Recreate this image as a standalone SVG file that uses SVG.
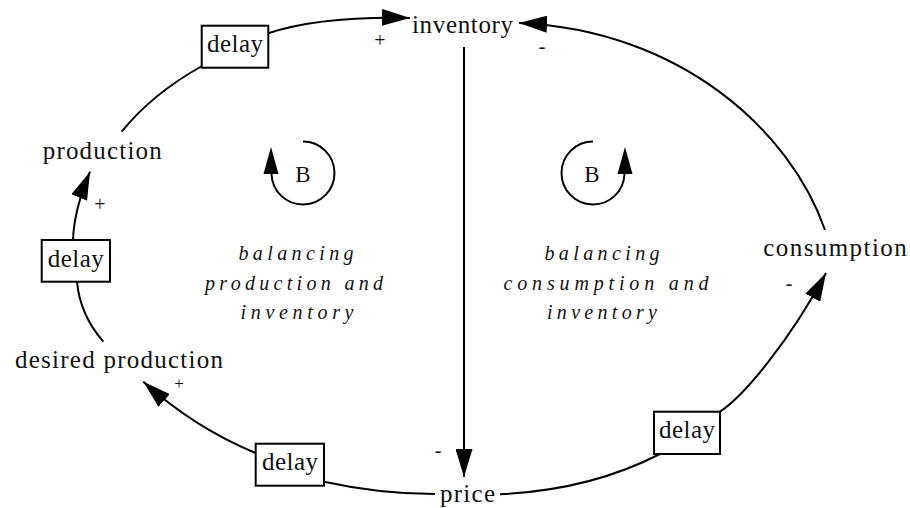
<svg xmlns="http://www.w3.org/2000/svg" width="910" height="508" viewBox="0 0 910 508">
<style>
  .lbl{font-family:"Liberation Serif","Times New Roman",serif;font-size:25px;fill:#111;}
  .mid{text-anchor:middle;}
  .it{font-family:"Liberation Serif","Times New Roman",serif;font-size:20px;font-style:italic;fill:#111;text-anchor:middle;}
  .sign{font-family:"Liberation Serif","Times New Roman",serif;font-size:20px;fill:#111;text-anchor:middle;}
  .box{fill:#fff;stroke:#000;stroke-width:2;}
  .link{fill:none;stroke:#000;stroke-width:2;}
  .arrow{fill:#000;}
</style>
<defs>
  <marker id="ah" markerUnits="userSpaceOnUse" markerWidth="30" markerHeight="17" refX="28" refY="8.5" orient="auto">
    <path d="M0,0 L28,8.5 L0,17 z" fill="#000"/>
  </marker>
</defs>
<rect width="910" height="508" fill="#fff"/>

<g id="connectors">
  <path class="link" d="M121.7,131.7 Q152,94 202,66"/>
  <path class="link" d="M268.3,33.3 Q320,16 410,18" marker-end="url(#ah)"/>
  <path class="link" d="M825,230 C790,130 680,30 519,23" marker-end="url(#ah)"/>
  <path class="link" d="M464,47 L464,477" marker-end="url(#ah)"/>
  <path class="link" d="M435,494 Q380,494 324,481.7"/>
  <path class="link" d="M255.7,453 Q195,428 143.3,381.7" marker-end="url(#ah)"/>
  <path class="link" d="M103.3,341.7 Q80,315 77,281.7"/>
  <path class="link" d="M73,240 Q74,210 90,171.7" marker-end="url(#ah)"/>
  <path class="link" d="M500,494.3 Q590,490 660,454"/>
  <path class="link" d="M720,411.7 C745,395 790,340 826,273" marker-end="url(#ah)"/>
</g>

<g id="signs">
  <text class="sign" x="380" y="47">+</text>
  <text class="sign" x="542" y="53">-</text>
  <text class="sign" x="100" y="211">+</text>
  <text class="sign" x="179" y="389" style="font-size:17px">+</text>
  <text class="sign" x="438" y="457">-</text>
  <text class="sign" x="789" y="290">-</text>
</g>

<g id="inventory"><text class="lbl" font-family="Liberation Serif, serif" x="412" y="33.3" textLength="101" lengthAdjust="spacing">inventory</text></g>
<g id="production"><text class="lbl" font-family="Liberation Serif, serif" x="42.7" y="159.3" textLength="119" lengthAdjust="spacing">production</text></g>
<g id="desired-production"><text class="lbl" font-family="Liberation Serif, serif" x="15" y="368.3" textLength="208" lengthAdjust="spacing">desired production</text></g>
<g id="consumption"><text class="lbl" font-family="Liberation Serif, serif" x="763.3" y="256" textLength="143.4" lengthAdjust="spacing">consumption</text></g>
<g id="price"><text class="lbl" font-family="Liberation Serif, serif" x="440" y="501.7" textLength="55" lengthAdjust="spacing">price</text></g>

<g id="delay-top"><rect class="box" x="201.7" y="25.7" width="66.6" height="42"/><text class="lbl mid" font-family="Liberation Serif, serif" x="235" y="52.3" textLength="56" lengthAdjust="spacing">delay</text></g>
<g id="delay-left"><rect class="box" x="41.7" y="240" width="68.3" height="41.7"/><text class="lbl mid" font-family="Liberation Serif, serif" x="75.8" y="266.7" textLength="56" lengthAdjust="spacing">delay</text></g>
<g id="delay-bottom-left"><rect class="box" x="255.7" y="443.7" width="68.3" height="42"/><text class="lbl mid" font-family="Liberation Serif, serif" x="290" y="470" textLength="56" lengthAdjust="spacing">delay</text></g>
<g id="delay-bottom-right"><rect class="box" x="654" y="411.7" width="66" height="42.3"/><text class="lbl mid" font-family="Liberation Serif, serif" x="687" y="438.3" textLength="56" lengthAdjust="spacing">delay</text></g>

<g id="loop-left">
  <path class="link" d="M303,141.5 A31.5,31.5 0 1 1 271.5,174"/>
  <polygon class="arrow" points="271,147 263.5,174 278.5,174"/>
  <text class="lbl mid" x="303" y="181.5" style="font-size:23px">B</text>
</g>
<g id="loop-right">
  <path class="link" d="M593,141.5 A31.5,31.5 0 1 0 624.5,174"/>
  <polygon class="arrow" points="625,147 617.5,174 632.5,174"/>
  <text class="lbl mid" x="592" y="181.5" style="font-size:23px">B</text>
</g>

<g id="label-left">
  <text class="it" x="296" y="260" textLength="115" lengthAdjust="spacing">balancing</text>
  <text class="it" x="294" y="290" textLength="178" lengthAdjust="spacing">production and</text>
  <text class="it" x="297" y="319" textLength="113" lengthAdjust="spacing">inventory</text>
</g>
<g id="label-right">
  <text class="it" x="602" y="260" textLength="115" lengthAdjust="spacing">balancing</text>
  <text class="it" x="606" y="290" textLength="205" lengthAdjust="spacing">consumption and</text>
  <text class="it" x="602" y="319" textLength="110" lengthAdjust="spacing">inventory</text>
</g>
</svg>
